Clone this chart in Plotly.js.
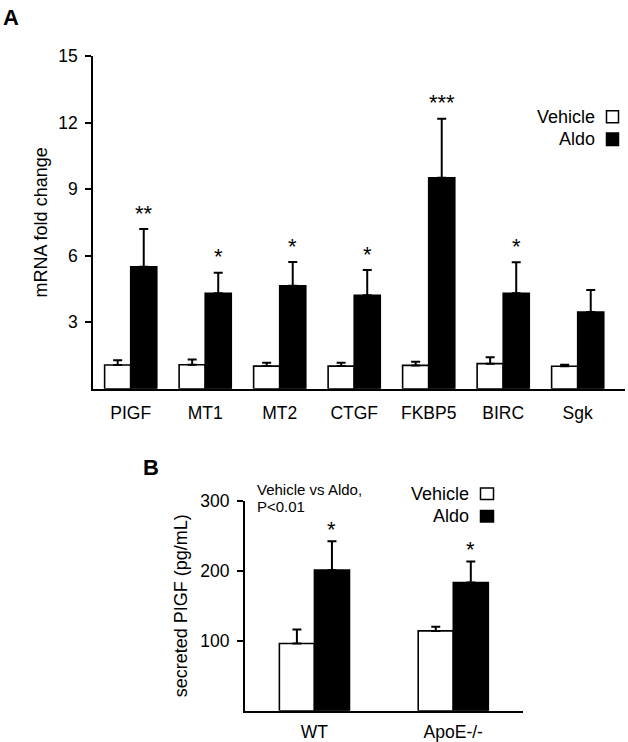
<!DOCTYPE html>
<html>
<head>
<meta charset="utf-8">
<script src="https://cdn.plot.ly/plotly-3.0.1.min.js"></script>
<style>html,body{margin:0;padding:0;background:#fff;}#chart{width:628px;height:742px;}</style>
</head>
<body>
<div id="chart"></div>
<script>
// ---------- Data ----------
const seriesNames = ["Vehicle", "Aldo"];

// Panel A
const genesA = ["PIGF", "MT1", "MT2", "CTGF", "FKBP5", "BIRC", "Sgk"];
const vehicleA = [1.07, 1.08, 1.02, 1.02, 1.05, 1.13, 1.01];
const vehicleErrA = [0.21, 0.24, 0.15, 0.15, 0.17, 0.29, 0.07];
const aldoA = [5.50, 4.30, 4.64, 4.21, 9.51, 4.30, 3.46];
const aldoErrA = [1.70, 0.93, 1.07, 1.14, 2.66, 1.40, 0.99];
const sigA = ["**", "*", "*", "*", "***", "*", ""];
const yTicksA = [3, 6, 9, 12, 15];

// Panel B
const groupsB = ["WT", "ApoE-/-"];
const vehicleB = [96, 114];
const vehicleErrB = [20, 6];
const aldoB = [201, 183];
const aldoErrB = [41, 30];
const sigB = ["*", "*"];
const yTicksB = [100, 200, 300];
const noteB = ["Vehicle vs Aldo,", "P&lt;0.01"];

// ---------- Layout helpers ----------
const W = 628, H = 742;
const px = x => x / W;
const py = y => 1 - y / H;
const FONT = "Liberation Sans, Arial, sans-serif";

const wA = 0.35, wB = 0.2525;

function barTrace(cats, vals, errs, fill, off, w, xa, ya) {
  return {
    type: "bar", x: cats, y: vals, xaxis: xa, yaxis: ya,
    width: w, offset: off,
    marker: {color: fill, line: {color: "#000", width: 1.6}},
    error_y: {type: "data", array: errs, arrayminus: errs.map(() => 0), symmetric: false,
              color: "#000", thickness: 2, width: 4.5},
    showlegend: false, hoverinfo: "skip"
  };
}

const data = [
  barTrace(genesA, vehicleA, vehicleErrA, "#fff", -wA, wA, "x", "y"),
  barTrace(genesA, aldoA, aldoErrA, "#000", 0, wA, "x", "y"),
  barTrace(groupsB, vehicleB, vehicleErrB, "#fff", -wB, wB, "x2", "y2"),
  barTrace(groupsB, aldoB, aldoErrB, "#000", 0, wB, "x2", "y2")
];

const annotations = [];
// significance marks
sigA.forEach((s, i) => {
  if (!s) return;
  annotations.push({xref: "x", yref: "y", x: i + wA / 2, y: aldoA[i] + aldoErrA[i],
    text: s, showarrow: false, xanchor: "center", yanchor: "middle", yshift: 16,
    font: {family: FONT, size: 22, color: "#000"}});
});
sigB.forEach((s, i) => {
  if (!s) return;
  annotations.push({xref: "x2", yref: "y2", x: i + wB / 2, y: aldoB[i] + aldoErrB[i],
    text: s, showarrow: false, xanchor: "center", yanchor: "middle", yshift: 12,
    font: {family: FONT, size: 22, color: "#000"}});
});
// panel letters
annotations.push({xref: "paper", yref: "paper", x: px(1), y: py(3), xanchor: "left", yanchor: "top",
  text: "<b>A</b>", showarrow: false, font: {family: FONT, size: 22, color: "#000"}});
annotations.push({xref: "paper", yref: "paper", x: px(141), y: py(453), xanchor: "left", yanchor: "top",
  text: "<b>B</b>", showarrow: false, font: {family: FONT, size: 22, color: "#000"}});
// note in panel B
noteB.forEach((t, k) => {
  annotations.push({xref: "paper", yref: "paper", x: px(255), y: py(489 + k * 17.7), xanchor: "left", yanchor: "middle",
    text: t, showarrow: false, font: {family: FONT, size: 15, color: "#000"}});
});

// manual legends (text left of the swatch)
const shapes = [];
function legend(textRight, boxX0, boxX1, rows) {
  rows.forEach((r, k) => {
    annotations.push({xref: "paper", yref: "paper", x: px(textRight), y: py(r.cy), xanchor: "right", yanchor: "middle",
      text: seriesNames[k], showarrow: false, font: {family: FONT, size: 18, color: "#000"}});
    shapes.push({type: "rect", xref: "paper", yref: "paper", x0: px(boxX0), x1: px(boxX1), y0: py(r.y1), y1: py(r.y0),
      fillcolor: k === 0 ? "#fff" : "#000", line: {color: "#000", width: 1.5}});
  });
}
legend(597, 606.5, 618.5, [{cy: 116.7, y0: 110.7, y1: 122.7}, {cy: 138.5, y0: 133, y1: 145.5}]);
legend(471, 480.5, 493.5, [{cy: 493.5, y0: 488, y1: 499.5}, {cy: 516, y0: 510.5, y1: 522}]);

const axisCommon = {showgrid: false, zeroline: false, showline: true, linecolor: "#000", linewidth: 2,
  tickfont: {family: FONT, size: 17.5, color: "#000"}, fixedrange: true};

const layout = {
  width: W, height: H,
  margin: {l: 0, r: 0, t: 0, b: 0},
  paper_bgcolor: "#fff", plot_bgcolor: "#fff",
  barmode: "group",
  showlegend: false,
  font: {family: FONT, color: "#000"},
  xaxis: Object.assign({}, axisCommon, {domain: [px(93.3), px(625)], anchor: "y",
    type: "category", range: [-0.502, 6.635], ticks: "", ticklabelstandoff: 7}),
  yaxis: Object.assign({}, axisCommon, {domain: [py(388.7), py(56)], anchor: "x",
    range: [0, 15], tickvals: yTicksA, ticktext: yTicksA.map(String), ticks: "outside", ticklen: 6, tickwidth: 2,
    tickcolor: "#000", ticklabelstandoff: 4,
    title: {text: "mRNA fold change", font: {family: FONT, size: 18, color: "#000"}, standoff: 6}}),
  xaxis2: Object.assign({}, axisCommon, {domain: [px(245), px(522.7)], anchor: "y2",
    type: "category", range: [-0.5, 1.5], ticks: "", ticklabelstandoff: 4}),
  yaxis2: Object.assign({}, axisCommon, {domain: [py(710.7), py(500.7)], anchor: "x2",
    range: [0, 300], tickvals: yTicksB, ticktext: yTicksB.map(String), ticks: "outside", ticklen: 6, tickwidth: 2,
    tickcolor: "#000", ticklabelstandoff: 4,
    title: {text: "secreted PIGF (pg/mL)", font: {family: FONT, size: 18, color: "#000"}, standoff: 8}}),
  annotations: annotations,
  shapes: shapes
};

Plotly.newPlot("chart", data, layout, {displayModeBar: false, staticPlot: true});
</script>
</body>
</html>
